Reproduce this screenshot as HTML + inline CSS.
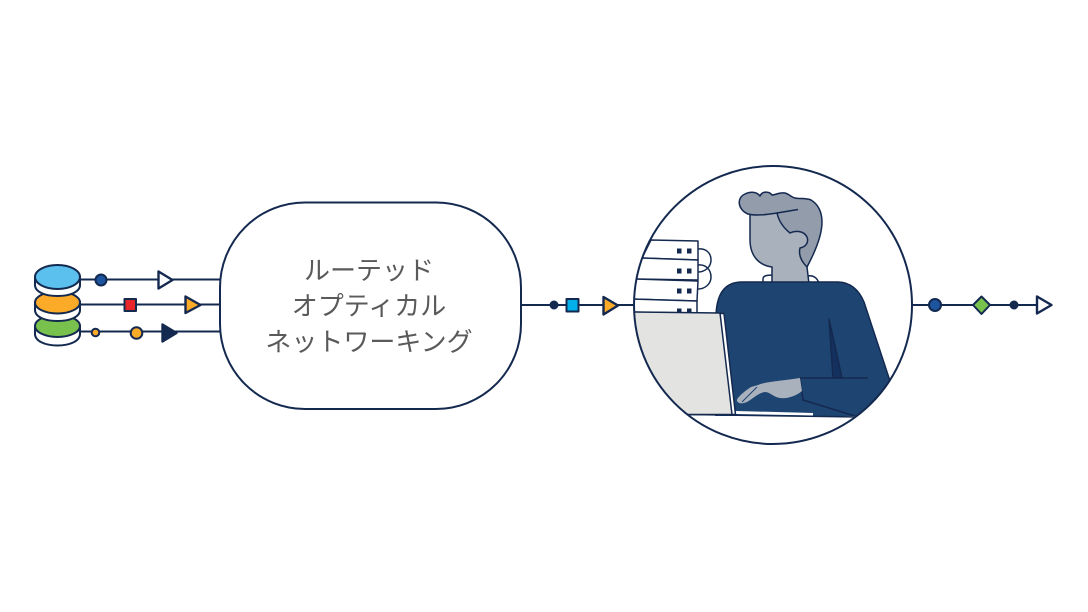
<!DOCTYPE html>
<html lang="ja">
<head>
<meta charset="utf-8">
<style>
html,body{margin:0;padding:0;background:#fff;width:1088px;height:612px;overflow:hidden}
svg{display:block}
text{font-family:"Liberation Sans","Noto Sans CJK JP",sans-serif;font-size:26px;font-weight:400;fill:#5a5a5a;text-anchor:middle}
</style>
</head>
<body>
<svg width="1088" height="612" viewBox="0 0 1088 612" xmlns="http://www.w3.org/2000/svg">
<defs><clipPath id="c"><circle cx="773" cy="305" r="139"/></clipPath></defs>
<g fill="none" stroke="#14294f" stroke-width="2" stroke-linejoin="round">
  <!-- connector lines -->
  <path d="M80 279.500H220M80 304.500H220M80 331.500H220M521 305H634M912 305H1037"/>

  <!-- database stack -->
  <path d="M35 326V334C35 341 45 345.500 57.500 345.500S80 341 80 334V326Z" fill="#fff"/>
  <ellipse cx="57.500" cy="326" rx="22.500" ry="11" fill="#78c14c"/>
  <path d="M35 302V310C35 317 45 321 57.500 321S80 317 80 310V302Z" fill="#fff"/>
  <ellipse cx="57.500" cy="302.500" rx="22.500" ry="11" fill="#fbab28"/>
  <path d="M35 277V285C35 292 45 296 57.500 296S80 292 80 285V277Z" fill="#fff"/>
  <ellipse cx="57.500" cy="277" rx="22.500" ry="12" fill="#5bc0ee"/>

  <!-- row 1 -->
  <circle cx="101" cy="280" r="5.500" fill="#1c559e"/>
  <path d="M158.500 271.500L172.500 280L158.500 288.500Z" fill="#fff" stroke-width="2.400"/>
  <!-- row 2 -->
  <rect x="124.500" y="299" width="11.500" height="12" fill="#e8262a"/>
  <path d="M185.500 296.500L200.500 305L185.500 313Z" fill="#fbab28" stroke-width="2.400"/>
  <!-- row 3 -->
  <circle cx="95.500" cy="332.500" r="3.800" fill="#fbab28"/>
  <circle cx="136.500" cy="333" r="5.800" fill="#fbab28"/>
  <path d="M162.500 324.500L176.500 333L162.500 341.500Z" fill="#14294f" stroke-width="2.400"/>

  <!-- main rounded box -->
  <rect x="220" y="202.500" width="301" height="206.500" rx="85" ry="85" fill="#fff"/>

  <!-- center connector -->
  <circle cx="554" cy="305" r="3.500" fill="#14294f"/>
  <rect x="566.500" y="299" width="12" height="12.500" fill="#00b0ea"/>
  <path d="M603.500 297L618 305.500L603.500 314.500Z" fill="#fbab28" stroke-width="2.400"/>

  <!-- right connector -->
  <circle cx="935" cy="305" r="6" fill="#1c559e"/>
  <path d="M981.500 296.500L990 305L981.500 314L973 305Z" fill="#78c14c"/>
  <circle cx="1014" cy="305" r="3.500" fill="#14294f"/>
  <path d="M1037 296.500L1051.500 305L1037 313.500Z" fill="#fff" stroke-width="2.400"/>
</g>

<text x="369" y="279.500">ルーテッド</text>
<text x="369" y="315">オプティカル</text>
<text x="369" y="351">ネットワーキング</text>

<circle cx="773" cy="305" r="139" fill="#fff"/>
<g clip-path="url(#c)" stroke="#14294f" stroke-width="1.500" stroke-linejoin="round">
  <!-- cable loops -->
  <path d="M698 249C706 248 711 253 711 260C711 267 705 272 698 272" fill="none"/>
  <path d="M698 265C706 264 711 270 711 277C711 284 705 289 698 289" fill="none"/>
  <!-- server stack -->
  <path d="M651 240L698 241V260L642 258Z" fill="#fff"/>
  <path d="M642 258L698 260V280L634 279Z" fill="#fff"/>
  <path d="M634 279L698 281L697 301L630 299Z" fill="#fff"/>
  <path d="M630 299L697 301V320H630Z" fill="#fff"/>
  <g fill="#14294f" stroke="none">
    <rect x="677" y="248.500" width="4.500" height="5"/><rect x="687" y="248.500" width="4.500" height="5"/>
    <rect x="677" y="268.500" width="4.500" height="5"/><rect x="687" y="268.500" width="4.500" height="5"/>
    <rect x="677" y="288.500" width="4.500" height="5"/><rect x="687" y="288.500" width="4.500" height="5"/>
    <rect x="677" y="308.500" width="4.500" height="5"/><rect x="687" y="308.500" width="4.500" height="5"/>
  </g>
  <!-- collar -->
  <path d="M763 284V279C763 276 766 275 773 275V284Z" fill="#fff"/>
  <path d="M808 284V276C813 275 818 278 819 284Z" fill="#fff"/>
  <!-- face and neck -->
  <path d="M750 212V240C750 255 758 265 772 267V284H809L807 267L818 210Z" fill="#a9b1bd"/>
  <!-- hair -->
  <path d="M748 214C738 210 736 198 745 194C751 191 757 192 760 196C762 191 769 191 772 195C776 195 779 192 785 193C789 194 791 197 795 198C800 199 806 198 811 200C818 204 822 212 822 222C822 235 815 252 807 267C802 262 798 256 800 248C806 247 809 242 807 237C804 231 796 230 790 233C785 229 779 222 777 213C765 215 755 216 748 214Z" fill="#929cab"/>
  <path d="M777 213L798 209.500" fill="none"/>
  <!-- body -->
  <path d="M716 318C716 295 724 282 742 282H838C850 282 859 290 864 302L889 378L895 420H716Z" fill="#1e4471"/>
  <path d="M829 319L833 378H842Z" fill="#14305e"/>
  <path d="M800 378H868" fill="none"/>
  <path d="M800 378L803 400L855 416" fill="none"/>
  <!-- hand -->
  <path d="M737 401C736 398 745 391 751 387L758 385C764 382 780 381 800 378L802 391C795 397 785 399 780 398C773 397 770 392 765 392C757 393 750 402 744 403C741 404 738 403 737 401Z" fill="#a9b1bd" stroke="none"/>
  <path d="M742 402L757 387" stroke="#1e4471" stroke-width="1" fill="none"/>
  <!-- desk -->
  <rect x="630" y="416" width="290" height="40" fill="#fff" stroke="none"/>
  <path d="M736 411L813 413V415.500L736 414Z" fill="#fff" stroke="none"/>
  <path d="M688 414.500L860 417" fill="none"/>
  <!-- laptop -->
  <path d="M630 312L724 313.500L735.500 414.500H630Z" fill="#fff"/>
  <path d="M630 312L720 313L732 414.500H630Z" fill="#e3e3e1"/>
</g>
<circle cx="773" cy="305" r="139" fill="none" stroke="#14294f" stroke-width="2"/>
</svg>
</body>
</html>
